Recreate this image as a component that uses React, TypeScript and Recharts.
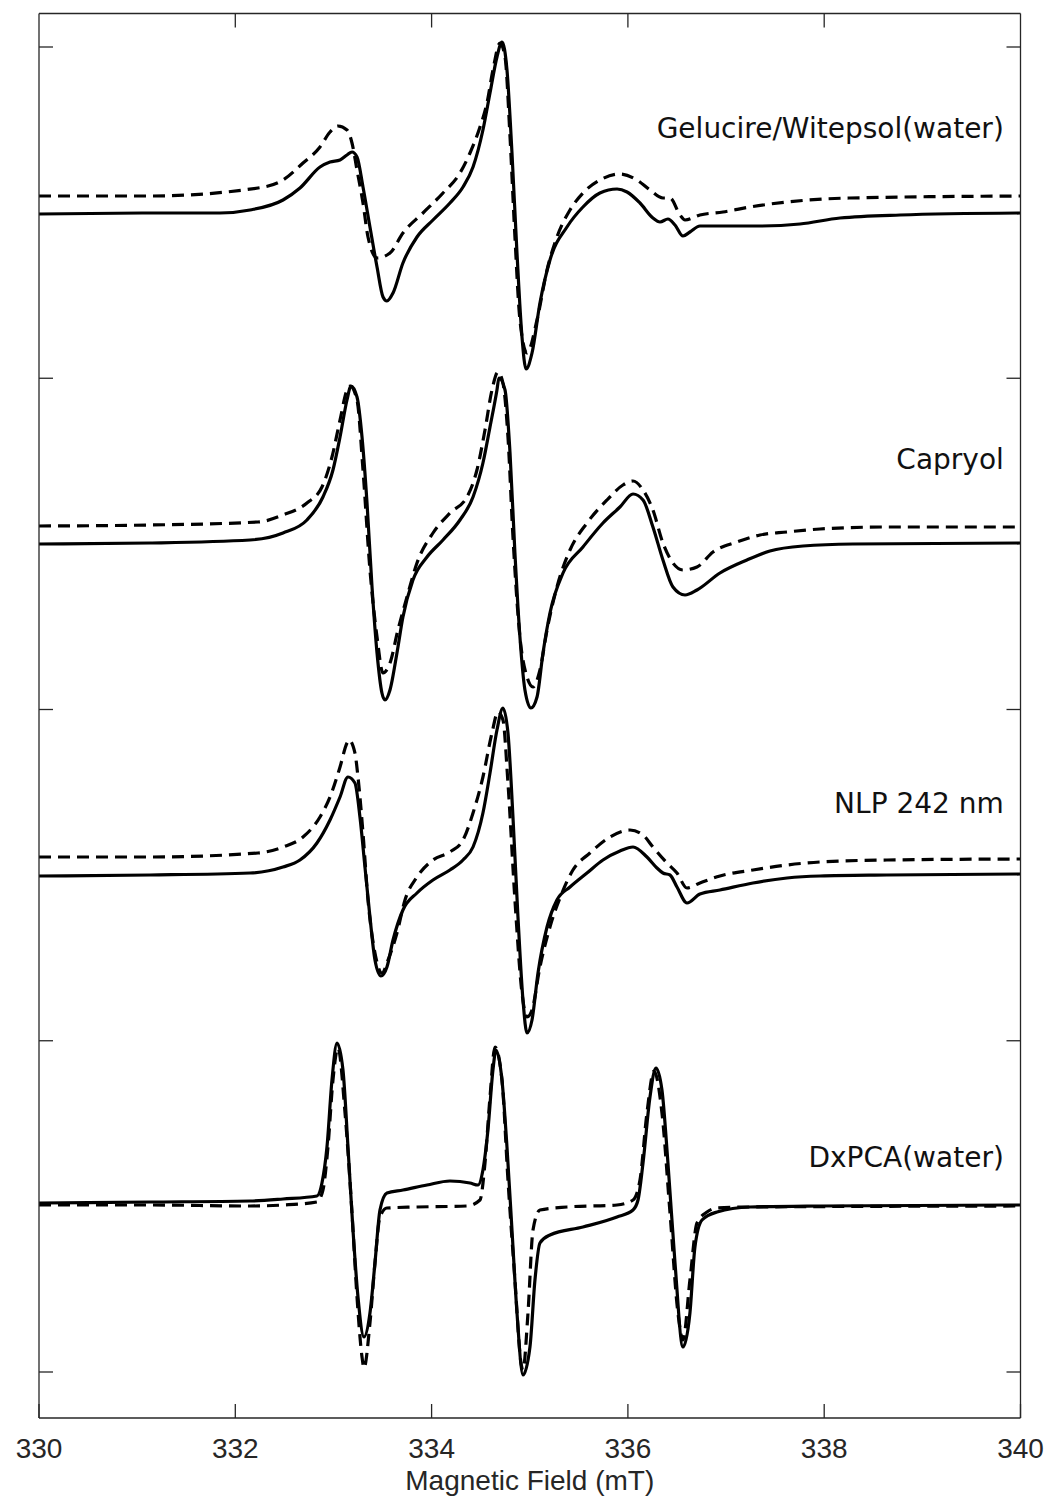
import { LineChart, Line, XAxis, YAxis, ReferenceDot, ReferenceLine } from "recharts"

// EPR spectra, stacked; intensity in arbitrary units (a.u.)
const FIELD_TICKS = [330, 332, 334, 336, 338, 340]
const INTENSITY_TICKS = [0, 331.25, 662.5, 993.75, 1325]
const INTENSITY_RANGE = [-46, 1358.5]
const TICK_LENGTH = 14 // a.u., same as px on this scale

// Gelucire/Witepsol(water)
const gelSolidField = [330, 331.131, 331.844, 332.15, 332.486, 332.659, 332.863, 332.965, 333.067, 333.138, 333.189, 333.24, 333.301, 333.372, 333.444, 333.505, 333.545, 333.607, 333.708, 333.851, 334.014, 334.187, 334.32, 334.422, 334.523, 334.595, 334.666, 334.717, 334.768, 334.819, 334.87, 334.921, 334.962, 335.023, 335.104, 335.206, 335.379, 335.542, 335.715, 335.889, 335.991, 336.123, 336.255, 336.327, 336.408, 336.48, 336.561, 336.632, 336.734, 337.346, 337.753, 338.161, 338.772, 340]
const gelSolidSignal = [1158, 1159, 1159, 1162, 1172, 1184, 1205, 1210, 1212, 1217, 1220, 1215, 1185, 1145, 1105, 1075, 1071, 1079, 1109, 1135, 1152, 1169, 1185, 1205, 1242, 1279, 1315, 1330, 1302, 1219, 1119, 1035, 1003, 1019, 1069, 1112, 1145, 1165, 1179, 1183, 1180, 1169, 1154, 1150, 1153, 1147, 1136, 1140, 1146, 1146, 1148, 1154, 1157, 1159]
const gelFitField = [330, 331.131, 332.231, 332.486, 332.69, 332.863, 332.965, 333.046, 333.138, 333.189, 333.24, 333.301, 333.352, 333.444, 333.576, 333.708, 333.912, 334.116, 334.289, 334.391, 334.493, 334.564, 334.625, 334.697, 334.748, 334.799, 334.849, 334.9, 334.972, 335.074, 335.176, 335.277, 335.41, 335.542, 335.715, 335.919, 336.092, 336.225, 336.357, 336.429, 336.531, 336.582, 336.734, 336.969, 337.244, 338.262, 340]
const gelFitSignal = [1176, 1176, 1184, 1192, 1209, 1225, 1240, 1246, 1242, 1229, 1202, 1169, 1135, 1114, 1119, 1139, 1159, 1179, 1199, 1219, 1245, 1269, 1302, 1329, 1315, 1235, 1135, 1052, 1019, 1052, 1102, 1135, 1162, 1179, 1192, 1198, 1192, 1182, 1174, 1174, 1157, 1152, 1157, 1160, 1165, 1174, 1176]

// Capryol
const capSolidField = [330, 331.131, 332.15, 332.486, 332.73, 332.893, 332.995, 333.067, 333.138, 333.179, 333.24, 333.291, 333.342, 333.393, 333.444, 333.494, 333.525, 333.576, 333.647, 333.708, 333.81, 333.953, 334.116, 334.289, 334.422, 334.523, 334.595, 334.666, 334.686, 334.748, 334.799, 334.849, 334.9, 334.951, 335.012, 335.074, 335.135, 335.206, 335.339, 335.542, 335.746, 335.919, 336.052, 336.154, 336.255, 336.357, 336.459, 336.582, 336.704, 336.938, 337.213, 337.447, 337.784, 338.293, 340]
const capSolidSignal = [828, 829, 832, 839, 852, 875, 902, 935, 972, 986, 975, 935, 869, 785, 719, 679, 672, 682, 719, 755, 792, 815, 832, 852, 875, 909, 945, 982, 994, 982, 919, 819, 735, 682, 664, 675, 719, 759, 799, 825, 849, 865, 878, 872, 845, 812, 785, 777, 782, 799, 812, 821, 826, 828, 829]
const capFitField = [330, 331.131, 332.231, 332.486, 332.73, 332.883, 332.985, 333.067, 333.138, 333.168, 333.24, 333.301, 333.372, 333.444, 333.505, 333.576, 333.657, 333.749, 333.851, 334.014, 334.187, 334.36, 334.462, 334.544, 334.615, 334.676, 334.727, 334.778, 334.829, 334.9, 334.972, 335.033, 335.104, 335.176, 335.277, 335.41, 335.583, 335.787, 335.95, 336.052, 336.154, 336.255, 336.357, 336.459, 336.561, 336.704, 336.867, 337.111, 337.346, 337.621, 337.957, 338.639, 340]
const capFitSignal = [846, 847, 850, 857, 869, 885, 915, 952, 982, 986, 972, 902, 802, 735, 699, 709, 742, 775, 809, 839, 859, 875, 902, 942, 982, 1000, 989, 935, 835, 735, 695, 685, 702, 742, 785, 822, 849, 872, 887, 891, 882, 862, 829, 809, 802, 805, 820, 830, 837, 840, 843, 845, 845]

// NLP 242 nm
const nlpSolidField = [330, 331.131, 332.15, 332.486, 332.659, 332.832, 332.965, 333.067, 333.148, 333.219, 333.27, 333.321, 333.372, 333.423, 333.484, 333.545, 333.607, 333.708, 333.851, 334.014, 334.187, 334.32, 334.422, 334.523, 334.595, 334.666, 334.727, 334.778, 334.829, 334.88, 334.931, 334.972, 335.023, 335.084, 335.176, 335.277, 335.41, 335.583, 335.746, 335.919, 336.052, 336.194, 336.296, 336.357, 336.429, 336.5, 336.602, 336.734, 336.938, 337.274, 337.621, 337.957, 338.639, 340]
const nlpSolidSignal = [496, 497, 499, 505, 512, 529, 552, 575, 595, 589, 555, 505, 455, 412, 396, 405, 432, 462, 479, 492, 502, 512, 525, 559, 599, 642, 664, 639, 555, 455, 372, 339, 352, 399, 445, 472, 485, 499, 512, 521, 525, 515, 504, 499, 497, 485, 469, 478, 482, 489, 494, 496, 497, 498]
const nlpFitField = [330, 331.131, 332.231, 332.486, 332.69, 332.863, 332.965, 333.067, 333.138, 333.158, 333.219, 333.25, 333.301, 333.352, 333.423, 333.494, 333.556, 333.647, 333.729, 333.851, 334.014, 334.187, 334.32, 334.422, 334.523, 334.615, 334.676, 334.727, 334.778, 334.849, 334.921, 334.972, 335.023, 335.104, 335.206, 335.328, 335.44, 335.613, 335.817, 336.021, 336.154, 336.255, 336.398, 336.5, 336.602, 336.734, 336.938, 337.274, 337.621, 337.957, 338.639, 340]
const nlpFitSignal = [515, 515, 519, 525, 535, 555, 575, 605, 629, 632, 619, 595, 539, 472, 419, 399, 412, 439, 472, 495, 512, 520, 532, 559, 595, 639, 660, 652, 589, 472, 379, 355, 362, 405, 445, 479, 502, 519, 535, 542, 537, 525, 509, 499, 484, 489, 496, 502, 507, 510, 512, 513]

// DxPCA(water)
const dxSolidField = [330, 331.131, 332.15, 332.486, 332.832, 332.883, 332.934, 332.985, 333.036, 333.097, 333.148, 333.199, 333.25, 333.311, 333.372, 333.423, 333.474, 333.545, 333.708, 333.953, 334.187, 334.391, 334.473, 334.523, 334.574, 334.625, 334.656, 334.717, 334.768, 334.819, 334.87, 334.931, 335.002, 335.053, 335.104, 335.206, 335.542, 335.889, 336.052, 336.103, 336.154, 336.225, 336.286, 336.347, 336.408, 336.48, 336.561, 336.632, 336.683, 336.755, 336.908, 337.244, 337.957, 340]
const dxSolidSignal = [169, 170, 171, 173, 176, 189, 225, 292, 329, 302, 225, 142, 75, 35, 59, 109, 162, 179, 182, 187, 191, 189, 187, 202, 242, 302, 322, 292, 225, 142, 59, -3, 25, 92, 129, 137, 145, 155, 162, 172, 209, 275, 304, 282, 209, 109, 25, 59, 125, 152, 160, 165, 166, 167]
const dxFitField = [330, 331.131, 332.15, 332.486, 332.832, 332.893, 332.944, 332.995, 333.046, 333.118, 333.189, 333.24, 333.291, 333.311, 333.372, 333.423, 333.474, 333.545, 333.851, 334.36, 334.493, 334.544, 334.595, 334.646, 334.717, 334.778, 334.849, 334.911, 334.931, 334.982, 335.033, 335.104, 335.379, 335.889, 336.052, 336.123, 336.194, 336.266, 336.347, 336.429, 336.51, 336.561, 336.632, 336.704, 336.806, 336.908, 337.244, 340]
const dxFitSignal = [167, 167, 166, 167, 170, 182, 225, 292, 324, 259, 159, 75, 15, 4, 49, 109, 155, 164, 165, 166, 172, 209, 275, 325, 292, 192, 92, 9, 2, 59, 142, 162, 165, 167, 172, 192, 259, 301, 259, 159, 59, 32, 92, 149, 160, 164, 165, 166]

// sample names and where their labels sit (right edge, vertical centre)
const sampleNames = ["Gelucire/Witepsol(water)", "Capryol", "NLP 242 nm", "DxPCA(water)"]
const labelField = [339.83, 339.83, 339.83, 339.83]
const labelSignal = [1244, 913, 569, 215]

const toPoints = (field: number[], signal: number[]) =>
  field.map((f, i) => ({ field: f, signal: signal[i] }))

const curves = [
  { id: "gel-fit", field: gelFitField, signal: gelFitSignal, dashed: true },
  { id: "gel-exp", field: gelSolidField, signal: gelSolidSignal, dashed: false },
  { id: "cap-fit", field: capFitField, signal: capFitSignal, dashed: true },
  { id: "cap-exp", field: capSolidField, signal: capSolidSignal, dashed: false },
  { id: "nlp-fit", field: nlpFitField, signal: nlpFitSignal, dashed: true },
  { id: "nlp-exp", field: nlpSolidField, signal: nlpSolidSignal, dashed: false },
  { id: "dx-fit", field: dxFitField, signal: dxFitSignal, dashed: true },
  { id: "dx-exp", field: dxSolidField, signal: dxSolidSignal, dashed: false },
]

const AXIS_COLOR = "#262626"
const AXIS_FONT = '"Liberation Sans", Arial, sans-serif'
const LABEL_FONT = '"DejaVu Sans", Verdana, sans-serif'

// tick marks only, no text (tick={false} would drop the marks too)
const NoTickText = () => <g />

export default function App() {
  const top = INTENSITY_RANGE[1]
  return (
    <div style={{ position: "absolute", left: 0, top: 0 }}>
      <LineChart width={1044} height={1504} margin={{ top: 12.5, right: 22.5, bottom: 85, left: 38 }}>
        <XAxis
          type="number"
          dataKey="field"
          domain={[330, 340]}
          ticks={FIELD_TICKS}
          interval={0}
          allowDataOverflow
          height={1}
          tickSize={-14}
          tickMargin={34}
          stroke={AXIS_COLOR}
          strokeWidth={1.3}
          tick={{ fill: AXIS_COLOR, fontSize: 28, fontFamily: AXIS_FONT }}
          label={{
            value: "Magnetic Field (mT)",
            position: "bottom",
            offset: 51,
            fill: AXIS_COLOR,
            fontSize: 28,
            fontFamily: AXIS_FONT,
          }}
        />
        <XAxis
          xAxisId="top"
          orientation="top"
          type="number"
          dataKey="field"
          domain={[330, 340]}
          ticks={FIELD_TICKS}
          interval={0}
          allowDataOverflow
          height={1}
          tickLine={false}
          tick={NoTickText}
          stroke={AXIS_COLOR}
          strokeWidth={1.3}
        />
        <YAxis
          type="number"
          domain={INTENSITY_RANGE}
          ticks={INTENSITY_TICKS}
          interval={0}
          allowDataOverflow
          width={1}
          tickSize={-14}
          tick={NoTickText}
          stroke={AXIS_COLOR}
          strokeWidth={1.3}
        />
        <YAxis
          yAxisId="right"
          orientation="right"
          type="number"
          domain={INTENSITY_RANGE}
          ticks={INTENSITY_TICKS}
          interval={0}
          allowDataOverflow
          width={1}
          tickSize={-14}
          tick={NoTickText}
          stroke={AXIS_COLOR}
          strokeWidth={1.3}
        />
        {/* inward tick marks along the top frame */}
        {FIELD_TICKS.slice(1, -1).map((f) => (
          <ReferenceLine
            key={`top-${f}`}
            segment={[
              { x: f, y: top },
              { x: f, y: top - TICK_LENGTH },
            ]}
            stroke={AXIS_COLOR}
            strokeWidth={1.3}
            ifOverflow="visible"
          />
        ))}
        {curves.map((c) => (
          <Line
            key={c.id}
            xAxisId={c.dashed ? "top" : 0}
            data={toPoints(c.field, c.signal)}
            dataKey="signal"
            type="monotone"
            stroke="#000"
            strokeWidth={3.2}
            strokeDasharray={c.dashed ? "12 7" : undefined}
            strokeLinejoin="round"
            dot={false}
            activeDot={false}
            isAnimationActive={false}
          />
        ))}
        {sampleNames.map((name, i) => (
          <ReferenceDot
            key={name}
            x={labelField[i]}
            y={labelSignal[i]}
            r={0}
            fill="none"
            stroke="none"
            label={{
              value: name,
              position: "left",
              offset: 0,
              fill: "#111",
              fontSize: 28,
              fontFamily: LABEL_FONT,
            }}
          />
        ))}
      </LineChart>
    </div>
  )
}
